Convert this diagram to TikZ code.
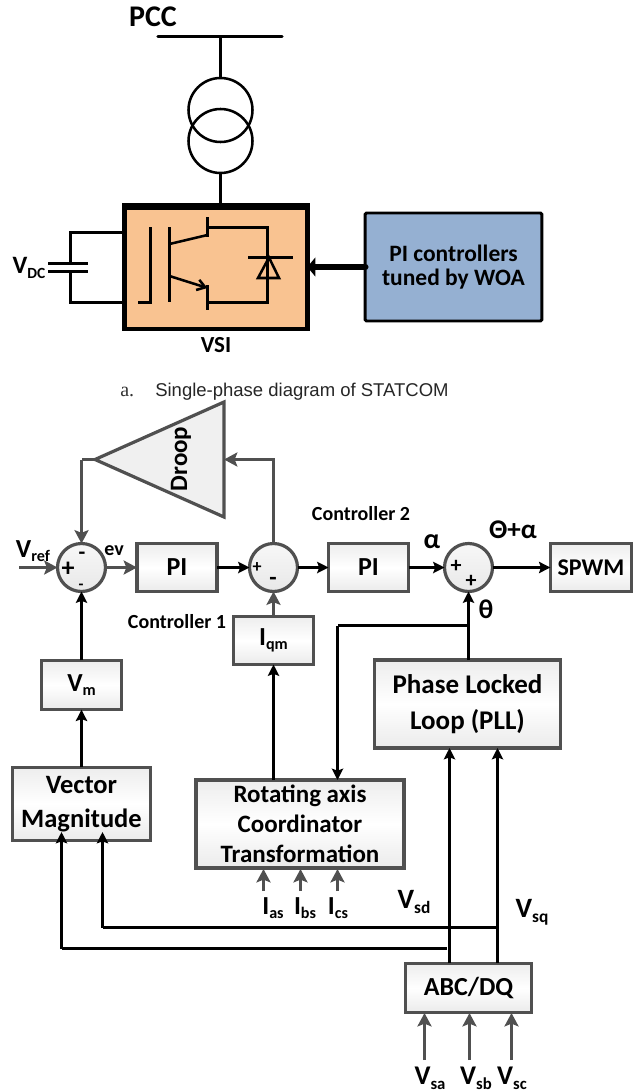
\documentclass[tikz,border=0pt]{standalone}
\usepackage{fontspec}
\setmainfont{Carlito}
\newfontfamily\capsans{Liberation Sans}
\newfontfamily\capserif{Liberation Serif}
\usetikzlibrary{arrows.meta,calc,shapes.geometric}
\newcommand{\fpx}[1]{\fontsize{\the\dimexpr#1pt*3/4\relax}{\the\dimexpr#1pt*9/10\relax}\selectfont}
\newcommand{\lowtxt}[2]{#1{\fontsize{0.62em}{0.62em}\selectfont\raisebox{-0.28em}{#2}}}
\definecolor{edgegray}{HTML}{505050}
\definecolor{vsifill}{HTML}{F9C391}
\definecolor{pifill}{HTML}{95B0D2}
\tikzset{
  x=0.75pt,y=-0.75pt,
  blk/.style={draw=edgegray,line width=2.4pt,top color=black!7,bottom color=black!8,middle color=white,
    inner sep=0pt,outer sep=0pt,align=center,font=\bfseries\fpx{26},text=black},
  sumc/.style={circle,draw=edgegray,line width=2.4pt,top color=black!3,bottom color=black!9,
    inner sep=0pt,outer sep=0pt,minimum size=36pt},
  lab/.style={inner sep=0pt,outer sep=0pt,font=\bfseries\fpx{20},text=black},
  sgn/.style={inner sep=0pt,outer sep=0pt,font=\bfseries,text=black},
  wire/.style={draw=black,line width=2.2pt},
  grayw/.style={draw=edgegray,line width=2.4pt},
  ar/.style={wire,-{Stealth[length=8.5pt,width=8.5pt,inset=1.5pt]}},
  gar/.style={grayw,-{Stealth[length=10pt,width=10.5pt,inset=2pt]}},
  ckt/.style={draw=black,line width=1.9pt},
  heavy/.style={draw=black,line width=2.4pt},
  xfmr/.style={circle,draw=black,line width=1.9pt,minimum size=48pt,inner sep=0pt,outer sep=0pt},
}
\begin{document}
\begin{tikzpicture}
\useasboundingbox[fill=white] (0,0) rectangle (639,1092);

% ---------- upper part
\node[lab,font=\bfseries\fpx{30}] (pcclab) at (153,17) {PCC};
\coordinate (busL) at (158,36.5);
\coordinate (busR) at (282,36.5);
\coordinate (busT) at (220.5,36.5);
\draw[heavy,line cap=round] (busL) -- (busR);
\node[xfmr] (xa) at (220.5,110) {};
\node[xfmr] (xb) at (220.5,141) {};
\draw[heavy] (busT) -- (xa.north);
\node[draw=black,line width=3.4pt,fill=vsifill,minimum width=137pt,minimum height=93pt,inner sep=0pt,outer sep=0pt] (vsi) at (216,267) {};
\draw[heavy] (xb.south) -- (xb.south |- vsi.north);
\fill[black] (vsi.north west) rectangle ($(vsi.north east)+(0,5)$);
\node[lab,font=\bfseries\fpx{23}] (vsilab) at (216,345) {VSI};

% DC side
\coordinate (cTop) at (70.5,232.5);
\coordinate (cBot) at (70.5,302.5);
\draw[heavy] (vsi.west |- cTop) -- (cTop) -- (70.5,263.5);
\draw[heavy] (vsi.west |- cBot) -- (cBot) -- (70.5,271.5);
\draw[black,line width=2.6pt] (48,263.5) -- (88,263.5);
\draw[black,line width=2.6pt] (48,271.5) -- (88,271.5);
\node[lab,font=\bfseries\fpx{25}] (vdc) at (29,268) {\lowtxt{V}{DC}};

% IGBT and diode
\draw[ckt] (138,302.5) -- (150.5,302.5) -- (150.5,227);
\draw[ckt] (169.5,227) -- (169.5,302);
\draw[ckt] (169.5,244) -- (207.5,235);
\draw[ckt] (207.5,217) -- (207.5,237);
\draw[ckt] (207.5,227.5) -- (267.5,227.5) -- (267.5,302.5) -- (207.5,302.5);
\draw[ckt] (207.5,285) -- (207.5,310);
\draw[ckt,-{Straight Barb[length=6pt,width=8pt]}] (169.5,276) -- (207.5,288);
\draw[ckt] (248,257.5) -- (293,257.5);
\draw[ckt] (269,257.5) -- (258,278) -- (279,278) -- cycle;

% controllers box
\node[draw=black,line width=2.2pt,fill=pifill,rounded corners=1pt,minimum width=132.5pt,minimum height=81pt,
  inner sep=0pt,outer sep=0pt,align=center,font=\bfseries\fpx{23.5},text=black] (pic) at (453.5,267)
  {PI controllers\\[-3pt]tuned by WOA};
\draw[black,line width=5pt,line cap=round,-{Triangle[length=6pt,width=14pt]}] (pic.west) -- (vsi.east);

% caption
\node[anchor=base west,inner sep=0pt,font=\capserif\fpx{20},text=black!80] (capa) at (120,396) {a.};
\node[anchor=base west,inner sep=0pt,font=\capsans\fpx{18.5},text=black!85] (capb) at (155,396) {Single-phase diagram of STATCOM};

% ---------- lower part: blocks
\coordinate (droopTip) at (95,459.5);
\coordinate (droopTop) at (224,402);
\coordinate (droopBot) at (224,517);
\coordinate (droopIn) at (224,459.5);
\draw[draw=edgegray,line width=2.4pt,fill=black!6,line join=miter] (droopTip) -- (droopTop) -- (droopBot) -- cycle;
\node[lab,rotate=90,font=\bfseries\fpx{25}] (droop) at (181,459) {Droop};

\node[sumc] (s1) at (81.5,567.5) {};
\node[sumc] (s2) at (273.5,567.5) {};
\node[sumc] (s3) at (468.5,567.5) {};
\node[blk,minimum width=60pt,minimum height=36pt] (pi1) at (177,567.5) {PI};
\node[blk,minimum width=60pt,minimum height=36pt] (pi2) at (368.5,567.5) {PI};
\node[blk,minimum width=61pt,minimum height=36pt,font=\bfseries\fpx{24}] (spwm) at (591,567.5) {SPWM};
\node[blk,minimum width=60pt,minimum height=36pt] (iqm) at (273.5,640.5) {\lowtxt{I}{qm}};
\node[blk,minimum width=60pt,minimum height=37pt] (vm) at (81.5,685) {\lowtxt{V}{m}};
\node[blk,minimum width=104pt,minimum height=55pt,font=\bfseries\fpx{26.5}] (vec) at (81.5,804) {Vector\\[1.5pt]Magnitude};
\node[blk,minimum width=156pt,minimum height=66pt,font=\bfseries\fpx{25}] (rot) at (300,824) {Rotating axis\\[0pt]Coordinator\\[0pt]Transformation};
\node[blk,minimum width=140pt,minimum height=66pt,font=\bfseries\fpx{27}] (pll) at (467.5,704) {Phase Locked\\[3pt]Loop (PLL)};
\node[blk,minimum width=95pt,minimum height=37pt] (abc) at (468.5,988) {ABC/DQ};

% ---------- signs
\node[sgn,font=\bfseries\fpx{26}] (p1) at (68,569) {+};
\node[sgn,font=\bfseries\fpx{22}] (m1a) at (82,556) {-};
\node[sgn,font=\bfseries\fpx{16}] (m1b) at (81,587) {-};
\node[sgn,font=\bfseries\fpx{18}] (p2) at (257,568) {+};
\node[sgn,font=\bfseries\fpx{24}] (m2) at (273,581) {-};
\node[sgn,font=\bfseries\fpx{22}] (p3a) at (456,566) {+};
\node[sgn,font=\bfseries\fpx{22}] (p3b) at (471,581) {+};

% ---------- labels
\node[lab,font=\bfseries\fpx{26}] (vref) at (33,551) {\lowtxt{V}{ref}};
\node[lab,font=\bfseries\fpx{20}] (ev) at (114,551) {ev};
\node[lab] (c1) at (177,622) {Controller 1};
\node[lab] (c2) at (361,514) {Controller 2};
\node[lab,font=\bfseries\fpx{28}] (alpha) at (432,542) {α};
\node[lab,font=\bfseries\fpx{27}] (thal) at (513,530) {Θ+α};
\node[lab,font=\bfseries\fpx{27}] (theta) at (486,609) {θ};
\node[lab,font=\bfseries\fpx{26}] (ias) at (273,908) {\lowtxt{I}{as}};
\node[lab,font=\bfseries\fpx{26}] (ibs) at (305,908) {\lowtxt{I}{bs}};
\node[lab,font=\bfseries\fpx{26}] (ics) at (338,908) {\lowtxt{I}{cs}};
\node[lab,font=\bfseries\fpx{28}] (vsd) at (414,902) {\lowtxt{V}{sd}};
\node[lab,font=\bfseries\fpx{28}] (vsq) at (532,912) {\lowtxt{V}{sq}};
\node[lab,font=\bfseries\fpx{27}] (vsa) at (430,1078) {\lowtxt{V}{sa}};
\node[lab,font=\bfseries\fpx{27}] (vsb) at (476,1078) {\lowtxt{V}{sb}};
\node[lab,font=\bfseries\fpx{27}] (vsc) at (512,1078) {\lowtxt{V}{sc}};

% ---------- connectors, forward path
\coordinate (vrefS) at (19,567.5);
\draw[gar] (vrefS) -- (s1.west);
\draw[gar] (s1.east) -- (pi1.west);
\draw[ar] (pi1.east) -- (s2.west);
\draw[ar] (s2.east) -- (pi2.west);
\draw[ar] (pi2.east) -- (s3.west);
\draw[ar] (s3.east) -- (spwm.west);
\coordinate (dropL) at (81.5,459.5);
\draw[grayw] (droopTip) -- (dropL);
\draw[gar] (dropL) -- (s1.north);
\draw[gar] (s2.north) |- (droopIn);
\draw[gar] (iqm.north) -- (s2.south);
\draw[ar] (vm.north) -- (s1.south);
\draw[ar] (vec.north) -- (vm.south);
\coordinate (rotIq) at (273.5,780);
\draw[ar] (rotIq) -- (iqm.south);

% PLL
\coordinate (thetaJ) at (468.5,625.5);
\coordinate (rotTh) at (337.5,780);
\draw[ar] (pll.north -| thetaJ) -- (s3.south -| thetaJ);
\draw[wire] (thetaJ) -- (thetaJ -| rotTh);
\draw[ar] (thetaJ -| rotTh) -- (rotTh);

% d / q signals
\coordinate (dx) at (449.5,963);
\coordinate (qx) at (497.5,963);
\coordinate (dp) at (449.5,748);
\coordinate (qp) at (497.5,748);
\draw[ar] (dx) -- (dp);
\draw[ar] (qx) -- (qp);
\coordinate (qJ) at (497.5,927.5);
\coordinate (dJ) at (447,948.5);
\coordinate (vecQ) at (102.5,832);
\coordinate (vecD) at (61.5,832);
\draw[wire] (qJ) -- (qJ -| vecQ);
\draw[ar] (qJ -| vecQ) -- (vecQ);
\draw[wire] (dJ) -- (dJ -| vecD);
\draw[ar] (dJ -| vecD) -- (vecD);

% current and voltage inputs
\foreach \n/\px in {a/263.5,b/300.5,c/337.5}{
  \coordinate (i\n s) at (\px,891);
  \draw[gar] (i\n s) -- (\px,869);
}
\foreach \n/\px in {a/424.5,b/469.5,c/511.5}{
  \coordinate (v\n s) at (\px,1060);
  \draw[gar] (v\n s) -- (\px,1013);
}
\end{tikzpicture}
\end{document}
